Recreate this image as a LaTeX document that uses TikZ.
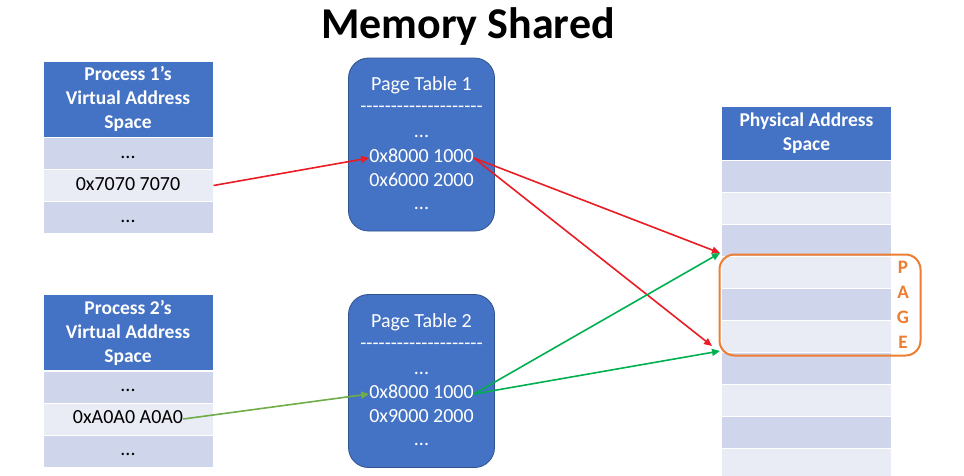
\documentclass[tikz,border=0pt]{standalone}
\usepackage{fontspec}
\setmainfont{Carlito}
\usetikzlibrary{arrows.meta}
\definecolor{hdrblue}{HTML}{4472C4}
\definecolor{edgeblue}{HTML}{2F528F}
\definecolor{rowdark}{HTML}{CFD5EA}
\definecolor{rowlight}{HTML}{E9EBF5}
\definecolor{pageorange}{HTML}{ED7D31}
\definecolor{linkred}{HTML}{EA1C24}
\definecolor{linkgreen}{HTML}{00B050}
\definecolor{leafgreen}{HTML}{70AD47}
\newcommand{\hyphenrule}{-{}-{}-{}-{}-{}-{}-{}-{}-{}-{}-{}-{}-{}-{}-{}-{}-{}-{}-{}-}
\tikzset{
  hdr/.style={fill=hdrblue, draw=white, line width=1pt, text=white, inner sep=0pt,
    align=center, font=\fontsize{19.5}{24}\selectfont\bfseries},
  darkrow/.style={fill=rowdark, draw=white, line width=1pt, inner sep=0pt,
    minimum height=32pt, text height=13pt, text depth=4pt, font=\fontsize{20}{22}\selectfont},
  lightrow/.style={darkrow, fill=rowlight},
  ptbox/.style={fill=hdrblue, draw=edgeblue, line width=0.8pt, rounded corners=20pt,
    minimum width=146pt, minimum height=173pt},
  pttext/.style={text=white, inner sep=0pt, text height=13pt, text depth=4pt,
    font=\fontsize{20}{22}\selectfont},
  link/.style={line width=1.6pt, -{Triangle[length=8pt,width=7pt]}}
}
\begin{document}
\begin{tikzpicture}[x=1pt, y=-1pt]
   \useasboundingbox (0,0) rectangle (964,475);
   \node[font=\fontsize{44}{50}\selectfont\bfseries] (title) at (468,27) {Memory Shared};

   % process 1
   \node[hdr, minimum width=170pt, minimum height=76pt] (p1) at (128,99) {Process 1’s\\Virtual Address\\Space};
   \node[darkrow, minimum width=170pt] (p1r1) at (128,153.5) {...};
   \node[lightrow, minimum width=170pt] (p1r2) at (128,185.5) {0x7070 7070};
   \node[darkrow, minimum width=170pt] (p1r3) at (128,217.5) {...};

   % process 2
   \node[hdr, minimum width=170pt, minimum height=76pt] (p2) at (128,332.5) {Process 2’s\\Virtual Address\\Space};
   \node[darkrow, minimum width=170pt] (p2r1) at (128,387) {...};
   \node[lightrow, minimum width=170pt] (p2r2) at (128,419) {};
   \node[pttext, text=black] (a0) at (128,419) {0xA0A0 A0A0};
   \node[darkrow, minimum width=170pt] (p2r3) at (128,451) {...};

   % page tables
   \node[ptbox] (pt1) at (421.5,144.5) {};
   \node[pttext] (pt1h) at (421.5,86) {Page Table 1};
   \node[pttext] (pt1d) at (421.5,108) {\hyphenrule};
   \node[pttext] (pt1e) at (421.5,133) {...};
   \node[pttext] (pt1a) at (421.5,158) {0x8000 1000};
   \node[pttext] (pt1b) at (421.5,182) {0x6000 2000};
   \node[pttext] (pt1f) at (421.5,205) {...};

   \node[ptbox] (pt2) at (421.5,381) {};
   \node[pttext] (pt2h) at (421.5,323) {Page Table 2};
   \node[pttext] (pt2d) at (421.5,345) {\hyphenrule};
   \node[pttext] (pt2e) at (421.5,370) {...};
   \node[pttext] (pt2a) at (421.5,394) {0x8000 1000};
   \node[pttext] (pt2b) at (421.5,418) {0x9000 2000};
   \node[pttext] (pt2f) at (421.5,441) {...};

   % physical memory
   \node[hdr, minimum width=170pt, minimum height=54pt] (ph) at (806.5,133) {Physical Address\\Space};
   \foreach \i in {0,...,9} {
     \pgfmathsetmacro{\yy}{176+32*\i}
     \ifodd\i
       \node[lightrow, minimum width=170pt] (ph\i) at (806.5,\yy) {};
     \else
       \node[darkrow, minimum width=170pt] (ph\i) at (806.5,\yy) {};
     \fi
   }
   \node[draw=pageorange, line width=2pt, rounded corners=15pt, minimum width=201pt,
         minimum height=101pt] (page) at (820,305) {};
   \node[text=pageorange, align=center, font=\fontsize{19}{25}\selectfont\bfseries] (pagel) at (903,305) {P\\A\\G\\E};

   \coordinate (hitA) at (720,253);
   \coordinate (hitB) at (712,346);
   \coordinate (hitC) at (720,351);

   % links
   \draw[link, linkred] (p1r2.east) -- (pt1a.west);
   \draw[link, linkred] (pt1a.east) -- (hitA);
   \draw[link, linkred] (pt1a.east) -- (hitB);
   \draw[link, linkgreen] (pt2a.east) -- (hitA);
   \draw[link, linkgreen] (pt2a.east) -- (hitC);
   \draw[link, leafgreen] (a0.east) -- (pt2a.west);
\end{tikzpicture}
\end{document}
